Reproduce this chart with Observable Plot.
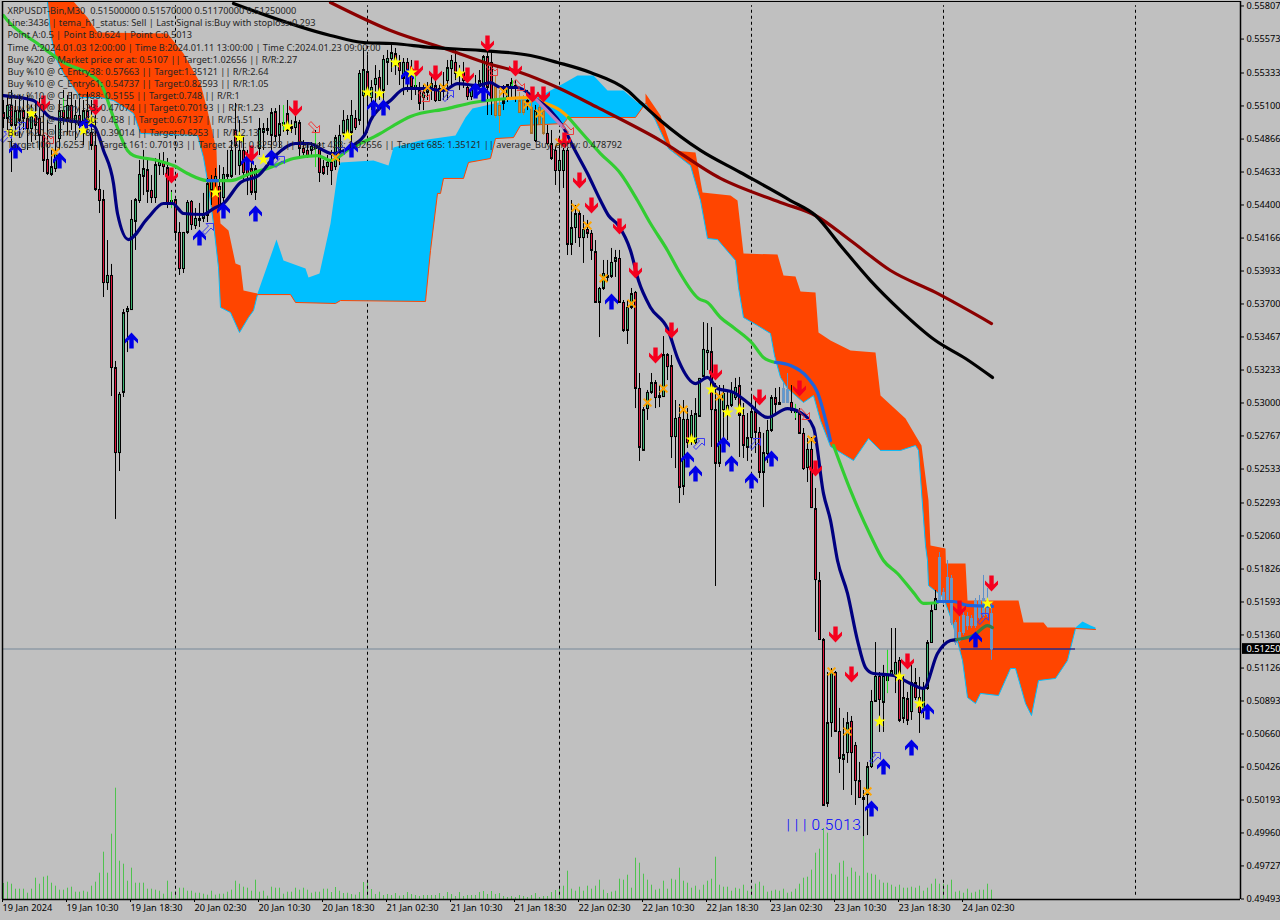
<!DOCTYPE html>
<html><head><meta charset="utf-8">
<script src="https://cdn.jsdelivr.net/npm/d3@7"></script>
<script src="https://cdn.jsdelivr.net/npm/@observablehq/plot@0.6"></script>
<style>html,body{margin:0;padding:0;background:#C0C0C0;overflow:hidden}svg{display:block}</style>
</head><body><div id="chart"></div>
<script>
// Prices are in points (1 point = 0.00001). One candle per array slot, every 30 minutes.
const open=[55043,55001,55093,54952,54987,55057,55001,54930,55022,55001,54881,54711,54605,54647,54859,55057,55001,55093,54972,55022,54952,55057,54902,54810,54499,54428,53841,53891,53240,52639,53064,53636,53650,54273,54421,54591,54640,54492,54442,54668,54690,54654,54400,54428,54195,53940,54195,54414,54244,54280,54294,54315,54492,54562,54520,54442,54591,54591,54916,54668,54775,54668,54647,54478,54789,54902,54916,54881,55050,54881,54952,55036,54930,54937,54972,54789,54775,54775,54803,54789,54661,54661,54690,54661,54775,54895,54902,54902,55001,54987,55163,55333,55149,55241,55291,55199,55397,55425,55460,55397,55284,55397,55340,55213,55199,55149,55185,55213,55234,55128,55234,55269,55354,55397,55312,55326,55220,55156,55199,55227,55220,55439,55397,55234,55093,55128,55149,55213,55234,55128,55043,55128,55079,54845,55079,55057,54895,54824,54775,54633,54633,54775,54110,54230,54329,54159,54216,54188,54060,53700,53799,53877,53884,53990,54011,53700,53502,53665,53771,53092,52654,52950,53064,53134,53042,53035,53332,53254,52752,52887,52399,52873,52724,52710,52894,53177,53346,53353,52943,52562,52943,52936,52972,53028,53113,52901,52675,52745,52929,52781,52498,52632,52795,53028,52979,52993,53085,52993,52936,52915,52774,52533,52661,52243,51734,51317,50158,50730,51084,50667,50469,50518,50738,50568,50320,50186,50221,50419,50879,51056,50872,51027,51063,51063,51169,50759,50900,50808,51013,50907,50815,50971,51296,51529,51593,51593,51593,51437,51296,51310,51367,51416,51416,51416,51473,51487,51494,51500];
const close=[55001,55093,54952,55057,55057,55001,54930,55022,54952,54881,54704,54612,54661,54775,55057,55001,55093,54972,55022,54952,55057,54952,54810,54499,54421,53841,53891,53240,52639,53050,53629,53657,54287,54428,54605,54647,54485,54442,54675,54690,54661,54400,54421,54195,53940,54195,54407,54251,54294,54294,54315,54541,54562,54591,54364,54605,54605,54775,54810,54775,54619,54598,54478,54647,54930,54930,54930,55043,54874,54965,54972,54916,54944,54979,54789,54760,54739,54803,54789,54619,54612,54690,54633,54866,54881,54987,54994,55022,54937,55319,55347,55177,55220,55284,55199,55418,55425,55467,55375,55340,55397,55284,55220,55234,55107,55185,55213,55248,55128,55213,55199,55361,55411,55319,55326,55269,55156,55206,55227,55269,55439,55220,55128,55022,55022,55107,55241,55255,55213,55043,55128,55093,54895,55057,54958,54895,54824,54718,54633,54704,54775,54110,54230,54329,54159,54216,54188,54068,53700,53799,53905,53891,53983,54018,53700,53502,53665,53763,53092,52675,52943,53064,53134,53028,53028,53332,53247,52752,52880,52392,52873,52710,52901,52915,53163,53368,53361,52943,52562,53042,53057,52972,53064,53099,52901,52689,52745,52929,52781,52498,52639,52795,53028,52979,52993,53092,52993,52936,52922,52774,52526,52661,52250,51741,51317,50144,50730,51084,50667,50476,50504,50730,50518,50320,50200,50200,50419,50879,51056,50893,51056,51056,51098,51155,50745,50907,50745,51013,50907,50801,50971,51296,51522,51607,51897,51650,51756,51749,51437,51367,51487,51480,51466,51593,51593,51607,51593,51250];
const high=[55128,55163,55199,55128,55163,55128,55163,55093,55128,55142,55093,54987,54775,54952,55128,55199,55163,55185,55128,55142,55128,55185,55128,55043,54633,54492,54138,53969,53283,53064,53650,53672,54421,54435,54704,54775,54711,54598,54718,54753,54760,54718,54492,54428,54265,54195,54421,54421,54364,54400,54471,54577,54598,54647,54668,54654,54775,54845,55107,54987,54881,54775,54739,54668,55001,54965,55001,55071,55071,55093,55057,55128,54987,55022,54987,54845,54810,54831,54916,54831,54704,54739,54775,54881,54952,55057,55022,55128,55057,55340,55496,55446,55269,55375,55340,55446,55482,55517,55496,55446,55425,55425,55411,55305,55255,55234,55255,55305,55340,55234,55326,55411,55446,55482,55375,55397,55269,55234,55305,55340,55446,55552,55482,55305,55199,55234,55234,55284,55269,55185,55163,55199,55128,55093,55163,55128,54952,54916,54810,54845,54789,54789,54421,54386,54350,54315,54280,54209,54138,53806,53997,53997,54082,54068,54068,53714,53714,53799,53778,53198,52957,53078,53198,53148,53113,53459,53339,53325,53007,52979,53007,52950,52936,53021,53163,53558,53551,53523,53127,53113,53113,53064,53134,53163,53170,52986,52915,53042,53028,52816,52774,52866,53042,53092,53099,53127,53198,53113,52979,52950,52809,52738,52745,52385,51791,51324,51084,51112,51091,50830,50759,50801,50773,50589,50448,50250,50448,50957,51296,51084,51134,51240,51395,51395,51190,51063,50943,51134,51112,51049,51013,51310,51579,51664,51932,51678,51876,51770,51452,51508,51508,51508,51487,51607,51628,51770,51678,51570];
const low=[54930,54916,54619,54881,54859,54916,54775,54831,54845,54775,54619,54598,54591,54619,54775,54952,54881,54916,54845,54902,54810,54916,54775,54485,54329,53735,53785,53035,52166,52505,53028,53346,53650,54068,54400,54456,54400,54400,54400,54598,54598,54364,54364,54145,53891,53905,54181,54209,54216,54230,54265,54265,54386,54456,54364,54386,54562,54577,54598,54598,54562,54456,54456,54421,54739,54775,54881,54739,54831,54789,54902,54881,54895,54881,54718,54739,54718,54732,54668,54548,54598,54598,54527,54633,54668,54866,54881,54810,54916,54951,54866,54916,55057,55093,55128,55128,55234,55326,55305,55234,55163,55185,55128,55163,55057,55057,55128,55128,55114,55128,55128,55128,55234,55269,55199,55213,55128,55128,55156,55199,55128,55022,55022,55001,54895,55057,55114,55142,55114,55043,55022,55057,54888,54831,54951,54881,54810,54704,54527,54492,54506,54032,54032,54117,54089,53976,54152,53997,53700,53452,53785,53841,53870,53877,53693,53488,53403,53650,52950,52576,52654,52866,53050,52950,52957,53028,53148,52597,52526,52279,52335,52668,52689,52696,52887,53170,53219,52675,51692,52533,52654,52724,52957,53007,52604,52597,52576,52654,52632,52456,52250,52562,52781,52915,52972,52986,52986,52915,52866,52774,52512,52427,52243,51367,51317,50137,50130,50625,50660,50370,50250,50441,50214,50144,50193,49924,49931,50405,50872,50660,50660,50935,51063,50935,50730,50723,50709,50745,50886,50653,50759,50957,51289,51522,51579,51558,51579,51416,51275,51296,51346,51381,51395,51395,51452,51466,51473,51170];
const volume=[160,173,153,103,103,103,63,103,213,153,223,233,163,133,93,93,113,123,73,73,83,73,133,173,263,473,263,653,1113,383,353,183,313,163,163,163,103,103,93,83,53,183,73,83,113,113,83,83,63,63,53,43,83,43,53,53,73,93,183,153,123,113,83,193,73,83,33,123,113,113,53,73,73,113,93,113,93,63,73,73,103,103,70,120,83,60,63,50,43,70,170,173,100,50,73,40,50,40,60,33,40,70,50,40,30,40,40,40,40,60,30,70,50,30,70,30,40,40,40,70,80,50,80,50,60,30,20,30,20,40,30,20,40,60,20,30,30,70,90,130,133,283,103,83,123,83,133,103,133,193,93,60,73,83,203,193,243,113,413,363,253,193,143,93,103,183,103,203,193,313,183,163,113,133,93,143,183,203,423,143,123,123,83,113,103,143,83,113,153,173,133,73,83,93,83,103,63,73,103,153,213,223,293,463,503,710,663,253,243,363,383,223,313,273,233,733,263,253,243,193,163,163,143,123,143,113,113,123,113,133,83,113,153,203,153,153,143,193,73,83,63,103,63,73,93,93,153,93];

// Bars whose bodies read inverted where they cross the cloud
const tintOnBlue=[123,124,129,130,132,134,135];
const tintOnOrange=[195,196,234,235,236,237,238,239,240,241,242,243,244,245,246,247];

// Ichimoku cloud outlines
const orangeATopBars=[11,17.5,21,23.5,41,45,49.25,51,53.25,53.5,54.25,56.25,58,59.25,60,63.5];
const orangeATop=[55828,55828,55715,55609,55602,55460,55248,55057,54775,54541,54258,54209,53976,53961,53785,53763];
const orangeALowBars=[11,11.75,13,15,19.25,24.25,27.5,32.5,34.25,48.5,50,51,52.5,53.75,54.25,56.75,59,61.25,62.5,63.5];
const orangeALow=[55828,55602,55432,55319,55149,55149,55128,55036,54895,54881,54725,54562,54258,53947,53665,53629,53488,53594,53643,53756];
const blueATopBars=[63.5,68.25,70,75.5,76.25,79,81.75,83.5,84.25,92.5,96.25,97.5,104.25,113,115.5,117.25,126,133.5,136.75,140,143.5,147.5,151,155,158.5,160.5];
const blueATop=[53763,54145,53997,53940,53877,53905,54258,54612,54690,54704,54668,54796,54845,54881,55008,55071,55128,55149,55199,55248,55305,55305,55199,55199,55114,55107];
const blueALowBars=[63.5,71.75,73,83,84.25,105.5,106.75,108.5,109.25,110,115,116.25,121.75,123,127.5,129.25,140,141.25,158,160.5];
const blueALow=[53756,53756,53700,53693,53714,53707,54068,54471,54471,54577,54577,54690,54718,54859,54866,54951,54965,55008,55008,55107];
const orangeBTopBars=[160.5,164.25,167.25,173,174.75,181.75,183.5,185,193.5,195,198,199.25,203,203.75,206.75,211.75,218,219.25,225.5,228,229.5,231.25,231.75,235.5,235.6,240.5,241,253.75,255,260,261,268];
const orangeBTop=[55177,55022,54775,54760,54478,54456,54421,54046,54039,53891,53884,53778,53771,53488,53431,53361,53346,53042,52880,52760,52689,52300,51982,51961,51855,51855,51593,51593,51437,51437,51402,51402];
const orangeBLowBars=[160.5,163,166.25,171.75,174.25,176,178.5,183,183.75,185,188.5,191.75,192.75,194.25,196,200,202.5,204.25,206.75,212.5,216.25,219.25,224.25,228,228.75,230.5,231,231.25,235,237.25,239.75,241,243,244.25,248.75,251.75,253,255.5,257,258.75,263,266,268];
const orangeBLow=[55107,54987,54789,54668,54421,54152,54145,53997,53806,53594,53537,53481,53325,53170,53092,52993,53042,52866,52682,52583,52738,52654,52654,52689,52654,51982,51876,51699,51614,51437,51169,50907,50865,50936,50921,51112,51112,50865,50780,51027,51042,51169,51395];
const blueBTopBars=[268,269.75,271.75,273];
const blueBTop=[51402,51445,51416,51402];
const blueBLowBars=[268,273];
const blueBLow=[51395,51388];

// Moving averages, traced
const maroonBars=[81.75,96.75,111.75,121,129.25,138.5,148.5,164.25,179.25,194.25,203,211.75,221.75,233,247];
const maroon=[55821,55623,55482,55390,55326,55220,55079,54845,54577,54407,54315,54138,53926,53771,53551];
const blackBars=[57.5,81.75,90,97.25,106.75,119.25,131.75,138.5,146.75,156,159.25,164.25,174.25,184.25,196.75,203,209.25,216.75,224.25,233,240.5,247.25];
const blackMa=[55814,55588,55538,55531,55503,55482,55446,55397,55326,55199,55114,54987,54775,54619,54421,54315,54103,53855,53643,53431,53304,53170];
const limeABars=[0,1,8.5,14.25,24.25,27.5,31,32.5,38.5,42.5,46,51,56.75,61.75,66,72.5,78.5,81.75,86.75,94.25,97.5,101.75,111,117.5,126];
const limeA=[55729,55694,55531,55411,55248,55008,54775,54739,54704,54668,54612,54562,54562,54612,54647,54718,54739,54704,54789,54895,54951,55015,55071,55114,55142];
const amberBars=[126,131,135,139.25,141.25];
const amber=[55142,55149,55114,55057,55008];
const limeBBars=[141.25,149.25,154.25,158.5,161.75,166,168.75,173.75,176,179.25,182.5,187.25,190,193];
const limeB=[55008,54753,54612,54421,54258,54068,53926,53728,53700,53594,53523,53410,53311,53276];
const royalABars=[193,196.75,201,203.5,206.75];
const royalA=[53276,53254,53170,53064,52724];
const limeCBars=[207.5,211.75,216.75,220,223.5,227.5,230,233.5];
const limeC=[52689,52371,52053,51876,51784,51649,51572,51579];
const royalBBars=[233.5,237.5,241,247.25];
const royalB=[51586,51586,51558,51551];
const royalCBars=[51,53.5];
const royalC=[54562,54562];
const navyBars=[0,7.5,11.75,16,22.5,25,27.5,28.5,31.25,36,40,42.25,45,50,52.5,55,59.25,63.75,68,73,76.25,82.25,87.25,90.5,91.75,96.75,100.5,105,110,113.5,118.5,121.75,124.25,128.5,132.5,136.75,140,142.5,146,149.25,151.25,153.75,156.75,158.75,161.75,166,168.75,173,176,178.5,182.5,186,191,196,199.25,202.5,205,206.75,208.5,211,213.5,215.5,217.5,222.5,226.75,230,233.5,236.75,238.25];
const navy=[55163,55128,55008,54987,54951,54775,54541,54329,54145,54294,54400,54400,54329,54322,54364,54400,54548,54598,54739,54824,54824,54753,54810,54895,54987,55128,55213,55213,55199,55248,55234,55255,55220,55220,55149,55057,54937,54796,54612,54421,54315,54244,54068,53855,53665,53516,53290,53127,53170,53092,53064,52993,52887,52950,52922,52816,52349,52159,51876,51643,51310,51119,51077,51063,51006,50971,51218,51310,51317];
const plumBars=[133,140];
const plum=[55142,54937];
const mossBars=[238.25,242.5,246,247.25];
const moss=[51317,51346,51416,51402];

// Signals
const sellBars=[10,23,42,62,73,103.25,108,116,121,128,132.25,135,140.25,144,147,154,158,167,163,178,189,199,203,208,212,226,239,247];
const sellPrice=[55107,55079,54598,54753,55071,55354,55319,55305,55531,55354,55170,55170,54845,54562,54386,54237,53926,53502,53325,53205,53028,53092,52526,51353,51070,51162,51536,51713];
const buyBars=[3,14,32,49,55,63,61,67,87,92.5,95,101,118,120,20.5,152,171,173,180,182,187,192,217,220,227,231,243];
const buyPrice=[54775,54704,53431,54159,54350,54329,54690,54725,54782,55079,55079,55298,55199,55177,54951,53707,52590,52491,52696,52562,52441,52597,50122,50419,50554,50808,51317];
const starBars=[7,2,20,22,59,71,65,53,86,91,94,98,102,114,172,177,181,184,224,219,229,246];
const starPrice=[55036,54902,54916,54987,54866,54944,54711,54478,54881,55185,55177,55397,55326,55319,52731,53085,52922,52943,51056,50738,50865,51572];
const crossBars=[13,83,106,110,125,131,134,139,143,146,150,157,161,165,170,179,202,207,211,216];
const crossPrice=[54761,54725,55220,55220,55192,55100,55036,54831,54371,54244,53870,53693,52993,53092,52943,53035,52731,51091,50667,50243];
const hollowBuyBars=[4,0.5,51,68.75,111,83.75,173.75,187.75,217.75,244.75];
const hollowBuyPrice=[54930,54866,54216,54690,55156,54753,52696,52696,50476,51459];
const hollowSellBars=[11,77.5,105,122,128.75,141,200];
const hollowSellPrice=[54866,54944,55163,55347,55241,54930,52915];
const limeTickBars=[42,70,78,198,221,15,103,127.25];
const limeTickTop=[54478,55093,54895,52979,51240,55142,55305,55269];
const limeTickLow=[54364,54916,54654,52880,50936,55043,55220,55213];

// Axes and separators
const separators=[43,91,139,187,235,283];
const timeTicks=[0,16,32,48,64,80,96,112,128,144,160,176,192,208,224,240];
const timeLabels=["19 Jan 2024","19 Jan 10:30","19 Jan 18:30","20 Jan 02:30","20 Jan 10:30","20 Jan 18:30","21 Jan 02:30","21 Jan 10:30","21 Jan 18:30","22 Jan 02:30","22 Jan 10:30","22 Jan 18:30","23 Jan 02:30","23 Jan 10:30","23 Jan 18:30","24 Jan 02:30"];
const priceTicks=[55807,55573,55333,55100,54866,54633,54400,54166,53933,53700,53467,53233,53000,52767,52533,52293,52060,51826,51593,51360,51126,50893,50660,50426,50193,49960,49727,49493];
const priceLabels=["0.55807","0.55573","0.55333","0.55100","0.54866","0.54633","0.54400","0.54166","0.53933","0.53700","0.53467","0.53233","0.53000","0.52767","0.52533","0.52293","0.52060","0.51826","0.51593","0.51360","0.51126","0.50893","0.50660","0.50426","0.50193","0.49960","0.49727","0.49493"];
const lastPrice=51250;
const lastPriceLabel="0.51250";
const infoLines=[
"XRPUSDT-Bin,M30  0.51500000 0.51570000 0.51170000 0.51250000",
"Line:3436 | tema_h1_status: Sell | Last Signal is:Buy with stoploss:0.293",
"Point A:0.5 | Point B:0.624 | Point C:0.5013",
"Time A:2024.01.03 12:00:00 | Time B:2024.01.11 13:00:00 | Time C:2024.01.23 09:00:00",
"Buy %20 @ Market price or at: 0.5107 || Target:1.02656 || R/R:2.27",
"Buy %10 @ C_Entry38: 0.57663 || Target:1.35121 || R/R:2.64",
"Buy %10 @ C_Entry61: 0.54737 || Target:0.82593 || R/R:1.05",
"Buy %10 @ C_Entry88: 0.5155 || Target:0.748 || R/R:1",
"Buy %10 @ Entry -23: 0.47074 || Target:0.70193 || R/R:1.23",
"Buy %20 @ Entry -50: 0.438 || Target:0.67137 || R/R:1.51",
"Buy %20 @ Entry -88: 0.39014 || Target:0.6253 || R/R:2.13",
"Target100: 0.6253 || Target 161: 0.70193 || Target 261: 0.82593 || Target 423: 1.02656 || Target 685: 1.35121 || average_Buy_entry: 0.478792"];
const pointLabel="| | | 0.5013";

const PRICE_BOTTOM=49479, PRICE_TOP=55828, VOL_UNIT=0.707;
const FONT=9.2;
const n=open.length, idx=d3.range(n);
const priceLabelOf=new Map(priceTicks.map((p,i)=>[p,priceLabels[i]]));
const timeLabelOf=new Map(timeTicks.map((b,i)=>[b,timeLabels[i]]));
const pts=(b,p)=>d3.zip(b,p);
const poly=(tb,t,lb,l)=>pts(tb,t).concat(pts(lb,l).reverse());

const poly2=(points)=>({draw(c){points.forEach((p,i)=>i?c.lineTo(p[0],p[1]):c.moveTo(p[0],p[1]));c.closePath();}});
const upArrow=poly2([[0,-8],[6.5,-1],[6.5,3],[2.2,-1],[2.2,8],[-2.2,8],[-2.2,-1],[-6.5,3],[-6.5,-1]]);
const downArrow=poly2([[0,8],[6.5,1],[6.5,-3],[2.2,1],[2.2,-8],[-2.2,-8],[-2.2,1],[-6.5,-3],[-6.5,1]]);
const hollowUp=poly2([[6,-6],[6,1],[3.5,-1.5],[-2.5,5],[-5,2.5],[1,-3.5],[-1.5,-6]]);
const hollowDown=poly2([[6,6],[6,-1],[3.5,1.5],[-2.5,-5],[-5,-2.5],[1,3.5],[-1.5,6]]);

const xy={x:d=>d[0],y:d=>d[1]};
const maLine=(b,p,stroke,w=3.2)=>Plot.line(pts(b,p),{...xy,stroke,strokeWidth:w,curve:"monotone-x"});
const edge=(b,p,stroke)=>Plot.line(pts(b,p),{...xy,stroke,strokeWidth:1});
const markers=(b,p,opt)=>Plot.dot(pts(b,p),{...xy,...opt});
const isBlue=new Set(tintOnBlue), isOrange=new Set(tintOnOrange);
const wickColor=i=>isOrange.has(i)?"#5B8FC9":isBlue.has(i)?"#C08A3A":"#000";
const bodyStroke=i=>isOrange.has(i)?"#7096C0":isBlue.has(i)?"#A07030":"#000";
const bodyFill=i=>isOrange.has(i)?"#5B9BD5":isBlue.has(i)?"#E08A1E":close[i]<open[i]?"#DC143C":"#3CB371";

const chart=Plot.plot({
  width:1280,height:920,marginTop:1,marginLeft:2,marginRight:40,marginBottom:21,
  style:{background:"#C0C0C0",fontFamily:"'Noto Sans'",fontSize:FONT+"px",color:"#000",overflow:"hidden"},
  x:{type:"linear",domain:[-0.25,309.25],range:[2,1240]},
  y:{type:"linear",domain:[PRICE_BOTTOM,PRICE_TOP],range:[899,1]},
  marks:[
    Plot.ruleX(idx,{x:i=>i,y1:PRICE_BOTTOM,y2:i=>PRICE_BOTTOM+volume[i]*VOL_UNIT,stroke:"#4FC24F",strokeWidth:1}),
    Plot.ruleX(separators,{y1:PRICE_BOTTOM+30,y2:PRICE_TOP-30,stroke:"#000",strokeWidth:1,strokeDasharray:"3,3"}),

    Plot.line(poly(orangeATopBars,orangeATop,orangeALowBars,orangeALow),{...xy,fill:"#FF4500",stroke:"none"}),
    Plot.line(poly(blueATopBars,blueATop,blueALowBars,blueALow),{...xy,fill:"#00BFFF",stroke:"none"}),
    Plot.line(poly(orangeBTopBars,orangeBTop,orangeBLowBars,orangeBLow),{...xy,fill:"#FF4500",stroke:"none"}),
    Plot.line(poly(blueBTopBars,blueBTop,blueBLowBars,blueBLow),{...xy,fill:"#00BFFF",stroke:"none"}),
    edge(orangeALowBars,orangeALow,"#00BFFF"),
    edge(orangeBLowBars,orangeBLow,"#00BFFF"),
    edge(blueALowBars,blueALow,"#FF4500"),
    edge(blueBLowBars,blueBLow,"#FF4500"),

    Plot.ruleY([lastPrice],{stroke:"#778899",strokeWidth:1}),
    Plot.ruleY([lastPrice],{x1:239.5,x2:268,stroke:"#000080",strokeWidth:1}),

    Plot.ruleX(idx,{x:i=>i,y1:i=>low[i],y2:i=>high[i],stroke:wickColor,strokeWidth:1}),
    Plot.rect(idx,{x1:i=>i-0.25,x2:i=>i+0.25,y1:i=>open[i],y2:i=>close[i],fill:bodyFill,stroke:bodyStroke,strokeWidth:1,dx:0.5,dy:0.5}),
    Plot.ruleX(limeTickBars,{x:d=>d,y1:(d,i)=>limeTickLow[i],y2:(d,i)=>limeTickTop[i],stroke:"#22E022",strokeWidth:1}),

    maLine(maroonBars,maroon,"#8B0000"),
    maLine(blackBars,blackMa,"#000"),
    maLine(limeABars,limeA,"#32CD32"),
    maLine(amberBars,amber,"#FFA500"),
    maLine(limeBBars,limeB,"#32CD32"),
    maLine(limeCBars,limeC,"#32CD32"),
    maLine(navyBars,navy,"#000080"),
    maLine(plumBars,plum,"#B77FC0"),
    maLine(mossBars,moss,"#3A7D44"),
    maLine(royalABars,royalA,"#1E64DC"),
    maLine(royalBBars,royalB,"#1E64DC"),
    maLine(royalCBars,royalC,"#1E64DC"),

    markers(hollowBuyBars,hollowBuyPrice,{symbol:hollowUp,r:5,fill:"none",stroke:"#3A3AF0",strokeWidth:1}),
    markers(hollowSellBars,hollowSellPrice,{symbol:hollowDown,r:5,fill:"none",stroke:"#F03A3A",strokeWidth:1}),
    markers(crossBars,crossPrice,{symbol:"times",r:3.6,fill:"none",stroke:"#FFA500",strokeWidth:2}),
    markers(buyBars,buyPrice,{symbol:upArrow,r:5,fill:"#0000E6",stroke:"none"}),
    markers(sellBars,sellPrice,{symbol:downArrow,r:5,fill:"#F5001E",stroke:"none"}),
    markers(starBars,starPrice,{symbol:"star",r:3.9,fill:"#FFFF00",stroke:"none"}),

    Plot.text([pointLabel],{x:195.75,y:50009,text:d=>d,textAnchor:"start",fill:"#0000FF",fontSize:15.5,fontFamily:"Roboto",fontWeight:300}),

    Plot.ruleX([-0.25,309.25],{stroke:"#000",strokeWidth:1.5,y1:PRICE_BOTTOM,y2:PRICE_TOP}),
    Plot.ruleY([PRICE_BOTTOM],{stroke:"#000",strokeWidth:1.5}),
    Plot.ruleY([PRICE_TOP],{stroke:"#000",strokeWidth:1}),

    Plot.axisX({anchor:"bottom",ticks:timeTicks,tickFormat:b=>timeLabelOf.get(b),tickSize:3,tickPadding:2,textAnchor:"start",label:null,fontSize:FONT,fill:"#000",dx:-1}),
    Plot.axisY({anchor:"right",ticks:priceTicks,tickFormat:p=>priceLabelOf.get(p),tickSize:3,tickPadding:3,label:null,fontSize:FONT,fill:"#000",dy:1.5}),

    Plot.rect([lastPrice],{x1:309.75,x2:320,y1:d=>d-38,y2:d=>d+38,fill:"#000"}),
    Plot.text([lastPrice],{x:310.75,y:d=>d,text:()=>lastPriceLabel,textAnchor:"start",fill:"#FFF",fontSize:FONT}),

    Plot.text([infoLines.join("\n")],{frameAnchor:"top-left",dx:5,dy:4,text:d=>d,textAnchor:"start",lineAnchor:"top",lineHeight:1.32,fill:"#262626",fontSize:FONT})
  ]
});
d3.select(chart).selectAll("text").filter(function(){return this.textContent===pointLabel;}).style("letter-spacing","0.55px");
document.getElementById("chart").appendChild(chart);
</script></body></html>
